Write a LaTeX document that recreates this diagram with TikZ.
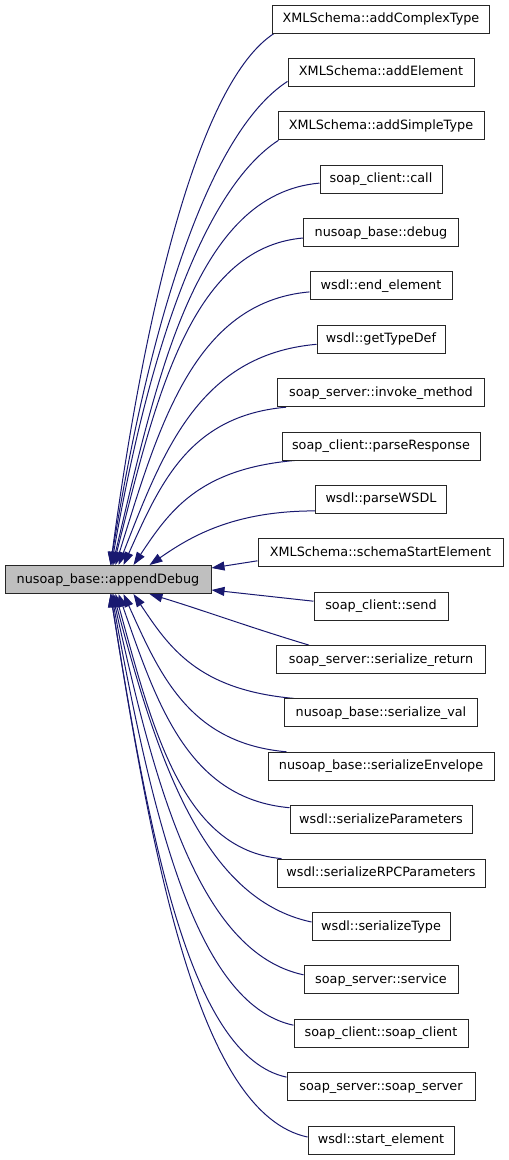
\documentclass[tikz,border=0pt]{standalone}
\usepackage{fontspec}
\setmainfont{DejaVu Sans}
\usetikzlibrary{arrows.meta}
\definecolor{edgeblue}{HTML}{191970}
\definecolor{mainfill}{HTML}{BFBFBF}
\pgfdeclarelayer{back}
\pgfdeclarelayer{bg}
\pgfsetlayers{back,bg,main}
\begin{document}
\begin{tikzpicture}[x=1pt,y=-1pt,
  fn/.style={draw=black!85, line width=1pt, fill=white, minimum height=28pt,
    inner xsep=2pt, inner ysep=0pt, text height=9.6pt, text depth=2.6pt,
    font=\fontsize{12.8pt}{15pt}\selectfont, anchor=center},
  edge/.style={draw=edgeblue, line width=1pt, -{Triangle[length=13pt,width=9pt]}}]
\begin{pgfonlayer}{back}
\fill[white] (0,0) rectangle (509,1160);
\end{pgfonlayer}
\path[use as bounding box] (0,0) rectangle (509,1160);

\node[fn, fill=mainfill, minimum width=206pt] (main) at (108,579.5) {nusoap\_base::appendDebug};

\node[fn, minimum width=217pt] (n0)  at (381,19.0)   {XMLSchema::addComplexType};
\node[fn, minimum width=186pt] (n1)  at (381,72.4)   {XMLSchema::addElement};
\node[fn, minimum width=206pt] (n2)  at (381,125.8)  {XMLSchema::addSimpleType};
\node[fn, minimum width=122pt] (n3)  at (381,179.1)  {soap\_client::call};
\node[fn, minimum width=155pt] (n4)  at (381,232.5)  {nusoap\_base::debug};
\node[fn, minimum width=142pt] (n5)  at (381,285.9)  {wsdl::end\_element};
\node[fn, minimum width=128pt] (n6)  at (381,339.3)  {wsdl::getTypeDef};
\node[fn, minimum width=207pt] (n7)  at (381,392.7)  {soap\_server::invoke\_method};
\node[fn, minimum width=198pt] (n8)  at (381,446.0)  {soap\_client::parseResponse};
\node[fn, minimum width=131pt] (n9)  at (381,499.4)  {wsdl::parseWSDL};
\node[fn, minimum width=245pt] (n10) at (380.5,552.8)  {XMLSchema::schemaStartElement};
\node[fn, minimum width=134pt] (n11) at (381,606.2)  {soap\_client::send};
\node[fn, minimum width=209pt] (n12) at (381,659.6)  {soap\_server::serialize\_return};
\node[fn, minimum width=193pt] (n13) at (381,712.9)  {nusoap\_base::serialize\_val};
\node[fn, minimum width=226pt] (n14) at (381,766.3)  {nusoap\_base::serializeEnvelope};
\node[fn, minimum width=182pt] (n15) at (381,819.7)  {wsdl::serializeParameters};
\node[fn, minimum width=208pt] (n16) at (381,873.1)  {wsdl::serializeRPCParameters};
\node[fn, minimum width=138pt] (n17) at (381,926.5)  {wsdl::serializeType};
\node[fn, minimum width=154pt] (n18) at (381,979.8)  {soap\_server::service};
\node[fn, minimum width=174pt] (n19) at (381,1033.2) {soap\_client::soap\_client};
\node[fn, minimum width=188pt] (n20) at (381,1086.6) {soap\_server::soap\_server};
\node[fn, minimum width=146pt] (n21) at (381,1140.0) {wsdl::start\_element};

\begin{pgfonlayer}{bg}
\draw[edge] ([xshift=2pt]n0.south west) .. controls +(-73.4,47.6) and +(35.9,-266.5) .. ([xshift=106pt]main.north west);
\draw[edge] ([yshift=-9pt]n1.west) .. controls +(-79.7,51.7) and +(38.9,-242) .. ([xshift=106pt]main.north west);
\draw[edge] ([xshift=1pt]n2.south west) .. controls +(-75.2,48.8) and +(36.7,-213) .. ([xshift=107pt]main.north west);
\draw[edge] ([yshift=-4pt]n3.west) .. controls +(-124.2,10.9) and +(45.5,-191.5) .. ([xshift=108pt]main.north west);
\draw[edge] ([yshift=-5.5pt]n4.west) .. controls +(-113.4,9.9) and +(41.6,-164) .. ([xshift=109pt]main.north west);
\draw[edge] ([yshift=-6pt]n5.west) .. controls +(-116.4,10.2) and +(42.7,-137) .. ([xshift=111pt]main.north west);
\draw[edge] ([yshift=-5pt]n6.west) .. controls +(-118.8,10.4) and +(43.6,-111) .. ([xshift=114pt]main.north west);
\draw[edge] ([xshift=9pt]n7.south west) .. controls +(-97.8,8.6) and +(35.9,-79.5) .. ([xshift=119pt]main.north west);
\draw[edge] ([xshift=13pt]n8.south west) .. controls +(-96.6,8.5) and +(35.4,-53) .. ([xshift=129pt]main.north west);
\draw[edge] ([yshift=-11.5pt]n9.west) .. controls +(-83,0) and +(39.8,-27.5) .. ([xshift=145pt]main.north west);
\draw[edge] ([yshift=-8pt]n10.west) -- ([yshift=11.5pt]main.east);
\draw[edge] ([yshift=5pt]n11.west) -- ([yshift=-10.5pt]main.east);
\draw[edge] ([xshift=33pt]n12.north west) .. controls +(-60,-18) and +(50,15) .. ([xshift=145pt]main.south west);
\draw[edge] ([xshift=10pt]n13.north west) .. controls +(-96.6,-8.5) and +(35.4,53) .. ([xshift=129pt]main.south west);
\draw[edge] ([xshift=19pt]n14.north west) .. controls +(-97.8,-8.6) and +(35.9,79.5) .. ([xshift=119pt]main.south west);
\draw[edge] ([yshift=12pt]n15.west) .. controls +(-102.6,-9) and +(37.6,107) .. ([xshift=114pt]main.south west);
\draw[edge] ([xshift=5pt]n16.north west) .. controls +(-99.6,-8.7) and +(36.5,133) .. ([xshift=111pt]main.south west);
\draw[edge] ([yshift=4.5pt]n17.west) .. controls +(-108.9,-23.1) and +(43.6,164.5) .. ([xshift=109pt]main.south west);
\draw[edge] ([yshift=5pt]n18.west) .. controls +(-105,-22.3) and +(42,191) .. ([xshift=108pt]main.south west);
\draw[edge] ([yshift=8pt]n19.west) .. controls +(-99.6,-21.2) and +(39.8,216) .. ([xshift=107pt]main.south west);
\draw[edge] ([yshift=9.5pt]n20.west) .. controls +(-96.8,-20.6) and +(38.7,242) .. ([xshift=106pt]main.south west);
\draw[edge] ([yshift=3pt]n21.west) .. controls +(-107.8,-22.9) and +(43.1,272) .. ([xshift=106pt]main.south west);
\end{pgfonlayer}
\end{tikzpicture}
\end{document}
